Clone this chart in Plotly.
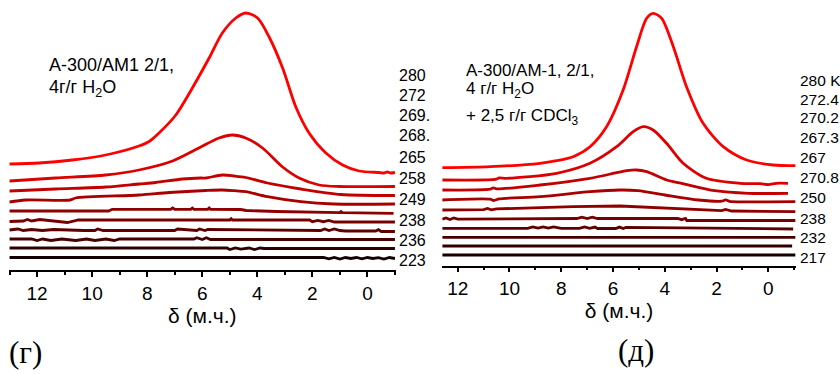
import plotly.graph_objects as go

# ---------------- data: panel (г) -----------------
g1_ppm = [13.0, 11.93, 10.72, 9.51, 8.30, 7.93, 7.57, 6.96, 6.36, 5.75, 5.27, 4.78, 4.42, 3.99, 3.57, 3.08, 2.60, 2.12, 1.51, 0.90, 0.30, -0.43, -0.6, -0.72, -0.85, -1.0]
g1_int = [106, 107, 110, 115, 124, 128.5, 137, 155, 182, 212, 237, 252, 257, 252, 233, 202, 163, 137, 117, 105, 99, 97.5, 97, 98, 97, 97.5]
g2_ppm = [13.0, 11.33, 9.51, 8.30, 7.08, 6.12, 5.39, 4.90, 4.42, 3.81, 3.08, 2.48, 1.75, 1.02, -1.0]
g2_int = [89, 92, 95, 100, 109, 122, 132, 135, 132, 122, 103, 92, 85, 83.5, 83.5]
g3_ppm = [13.0, 11.33, 9.51, 8.30, 7.69, 6.72, 6.05, 5.87, 5.27, 4.84, 4.42, 3.63, 2.42, 0.96, -1.0]
g3_int = [79, 81, 83, 86, 87.5, 91, 92, 92, 95, 94, 92.5, 87, 81, 75.5, 74.5]
g4_ppm = [13.0, 12.42, 10.8, 10.6, 8.30, 7.2, 5.87, 5.27, 4.84, 4.42, 3.63, 2.42, 1.21, -1.0]
g4_int = [68, 70, 70, 72, 75, 77.5, 79.5, 80, 79.3, 78.3, 73.3, 68.3, 66, 66]
g5_ppm = [13.0, 9.4, 9.27, 7.15, 7.08, 7.0, 6.42, 6.36, 6.3, 5.8, 5.75, 5.7, 4.6, 4.4, 3.3, 2.0, 1.0, 0.96, 0.9, -0.95]
g5_int = [59, 59, 60.7, 60.7, 62, 60.7, 60.7, 62, 60.7, 60.7, 62, 60.7, 60.5, 59.5, 58.5, 57.5, 57.3, 58.5, 57.3, 56.7]
g6_ppm = [13.0, 12.5, 12.35, 12.2, 11.9, 11.5, 11.2, 10.9, 10.5, 5.0, 4.95, 4.9, 2.1, 2.0, 1.8, 1.6, 1.4, 1.2, -1.0]
g6_int = [48.5, 49, 50.5, 49, 50.5, 49.5, 48, 47.5, 50, 50, 51.3, 50, 50, 48.3, 49.5, 48.3, 49.5, 48, 48]
g7_ppm = [13.0, 12.7, 12.5, 12.2, 11.8, 11.4, 10.3, 9.9, 9.8, 9.6, 7.0, 6.9, 6.2, 6.1, 5.9, 5.8, 1.7, 1.55, 1.4, 1.2, 1.0, 0.8, -0.3, -0.4, -0.5, -1.0]
g7_int = [40, 41, 39.5, 40.5, 39.5, 40.5, 39.5, 39.5, 41, 39.5, 39.5, 41, 39.5, 41, 39.5, 40.5, 39.5, 41, 39.5, 41, 39.5, 39, 39, 40.3, 38.5, 38.5]
g8_ppm = [13.0, 12.2, 12.0, 11.8, 11.5, 11.1, 10.6, 10.2, 9.9, 9.5, 9.2, 9.0, 6.3, 6.2, 6.0, 5.85, 5.7, -1.0]
g8_int = [31, 31, 29.5, 31, 29.5, 31, 29.5, 31, 29.5, 31, 29.5, 31, 31, 32.3, 30.5, 32.3, 30.5, 30.5]
g9_ppm = [13.0, 5.1, 5.0, 4.8, 4.6, 4.3, 4.1, 3.9, 3.75, -1.0]
g9_int = [22, 22, 20.5, 22, 20.8, 22, 20.5, 22, 21.5, 21.5]
g10_ppm = [13.0, 1.6, 1.4, 1.2, 1.0, 0.8, 0.6, 0.4, 0.2, 0.0, -0.2, -0.4, -0.6, -0.8, -1.0]
g10_int = [12.5, 12.5, 11.2, 12.5, 11, 12.5, 11.5, 12.5, 11.2, 12.5, 11.5, 12.3, 11, 12.5, 11.5]
g_labels = ["280", "272", "269.", "268.", "265", "258", "249", "238", "236", "223"]

# ---------------- data: panel (д) -----------------
d1_ppm = [12.6, 10.75, 8.82, 8.18, 7.54, 6.89, 6.25, 5.61, 5.09, 4.70, 4.45, 4.12, 3.67, 3.16, 2.52, 1.74, 0.84, -0.19, -1.05]
d1_int = [98, 99, 102.4, 105, 109, 119, 139, 175.7, 219, 247.4, 252.4, 247.4, 219, 179, 142.4, 119, 105.7, 100.7, 100]
d2_ppm = [12.6, 10.5, 10.4, 10.11, 8.18, 6.89, 5.86, 5.22, 4.83, 4.45, 3.93, 3.29, 2.39, 1.10, 0.3, 0.0, -0.3, -0.76]
d2_int = [85.7, 86.5, 87.8, 87.4, 92.4, 102.4, 119, 134, 139, 135.7, 122.4, 102.4, 87.4, 82.4, 82, 81, 82.4, 82.4]
d3_ppm = [12.6, 10.75, 10.63, 10.5, 8.82, 6.89, 5.86, 5.47, 5.09, 4.70, 3.93, 3.35, 2.07, 0.78, -0.76]
d3_int = [75.7, 76.5, 77.8, 76.8, 80.7, 87.4, 93, 95, 95.7, 94, 85.7, 82.4, 75, 72.4, 72.4]
d4_ppm = [12.6, 10.75, 10.6, 10.4, 8.82, 6.89, 5.73, 5.03, 4.0, 2.71, 1.8, 1.65, 1.5, 1.42, -1.05]
d4_int = [65.7, 66.5, 65.2, 66.8, 69, 74, 75.7, 75, 70.7, 65.7, 64.5, 65.8, 64.3, 64, 64]
d5_ppm = [12.6, 11.0, 10.85, 10.7, 10.5, 8.82, 7.54, 5.73, 3.35, 1.8, 1.65, 1.5, 1.42, -1.05]
d5_int = [55.7, 56, 57.3, 55.8, 56.8, 58.4, 59, 59.7, 56.4, 55, 56.3, 54.8, 54.7, 54]
d6_ppm = [12.6, 12.45, 12.3, 12.15, 12.0, 7.4, 7.2, 7.0, 6.8, 6.6, 3.5, 3.35, 3.2, 3.15, -1.05]
d6_int = [46.4, 47.8, 46.2, 47.8, 46.6, 47.2, 48.6, 47.2, 48.6, 47.2, 47.2, 46, 47.2, 45.2, 45.2]
d7_ppm = [12.6, 9.3, 9.1, 8.9, 8.7, 8.5, 8.3, 8.0, 7.3, 7.1, 6.9, 6.7, 6.6, 5.9, 5.75, 5.6, 5.5, -0.96]
d7_int = [37.4, 37.4, 38.8, 37.6, 38.8, 37.6, 38.8, 37.4, 37.4, 38.8, 37.4, 38.6, 37.2, 37.2, 38.6, 37.2, 38.4, 36.7]
d8_ppm = [12.6, -1.05]
d8_int = [28.4, 28.4]
d9_ppm = [12.6, -0.92]
d9_int = [19.7, 19.7]
d10_ppm = [12.6, -1.05]
d10_int = [10.7, 10.7]
d_labels = ["280 K", "272.4", "270.2", "267.3", "267", "270.8", "250", "238", "232", "217"]

g_x_ticks = [12, 10, 8, 6, 4, 2, 0]

trace_colors = ["#ff0000", "#dc0000", "#c20000", "#a80000", "#8e0000", "#760000",
                "#5e0000", "#460000", "#2e0000", "#140000"]

g_series = [(g1_ppm, g1_int), (g2_ppm, g2_int), (g3_ppm, g3_int), (g4_ppm, g4_int),
            (g5_ppm, g5_int), (g6_ppm, g6_int), (g7_ppm, g7_int), (g8_ppm, g8_int),
            (g9_ppm, g9_int), (g10_ppm, g10_int)]
d_series = [(d1_ppm, d1_int), (d2_ppm, d2_int), (d3_ppm, d3_int), (d4_ppm, d4_int),
            (d5_ppm, d5_int), (d6_ppm, d6_int), (d7_ppm, d7_int), (d8_ppm, d8_int),
            (d9_ppm, d9_int), (d10_ppm, d10_int)]

W, H = 840, 374
FONT = "Arial, Liberation Sans, sans-serif"
SERIF = "Times New Roman, Liberation Serif, serif"

fig = go.Figure()
for i, (xs, ys) in enumerate(g_series):
    fig.add_trace(go.Scatter(x=xs, y=ys, mode="lines", xaxis="x", yaxis="y",
                             line=dict(color=trace_colors[i], width=2.8,
                                       shape="spline" if i < 4 else "linear", smoothing=0.8),
                             showlegend=False, hoverinfo="skip"))
for i, (xs, ys) in enumerate(d_series):
    fig.add_trace(go.Scatter(x=xs, y=ys, mode="lines", xaxis="x2", yaxis="y2",
                             line=dict(color=trace_colors[i], width=2.8,
                                       shape="spline" if i < 4 else "linear", smoothing=0.8),
                             showlegend=False, hoverinfo="skip"))


def px(x):
    return x / W


def py(y):
    return 1 - y / H


xaxis_common = dict(
    showgrid=False, zeroline=False, showline=True, linecolor="black", linewidth=1.5,
    ticks="outside", ticklen=5, tickwidth=1.5, tickcolor="black",
    tickmode="array", tickvals=g_x_ticks,
    tickfont=dict(family=FONT, size=19, color="black"),
    minor=dict(ticks="outside", ticklen=3, tickwidth=1.5, tickcolor="black", dtick=1, tick0=0,
               showgrid=False),
    title=dict(text="δ (м.ч.)", font=dict(family=FONT, size=21, color="black"), standoff=2),
)
yaxis_common = dict(visible=False, showgrid=False, zeroline=False, fixedrange=True)

fig.update_layout(
    width=W, height=H,
    margin=dict(l=0, r=0, t=0, b=0),
    paper_bgcolor="white", plot_bgcolor="white",
    xaxis=dict(domain=[px(9), px(395.5)], range=[13.02, -1.02], anchor="y", **xaxis_common),
    yaxis=dict(domain=[py(270), py(5)], range=[0, 265], anchor="x", **yaxis_common),
    xaxis2=dict(domain=[px(442.3), px(795.7)], range=[12.595, -1.058], anchor="y2", **xaxis_common),
    yaxis2=dict(domain=[py(265.7), py(5)], range=[0, 260.7], anchor="x2", **yaxis_common),
)

ann = []
g_label_y = [75, 95.3, 115.8, 135.8, 157.5, 178.3, 199, 220, 240.8, 260.8]
d_label_y = [80.3, 99.7, 118, 137.8, 157.8, 177.8, 197.8, 218, 237.8, 257.8]
for t, yy in zip(g_labels, g_label_y):
    ann.append(dict(text=t, x=px(397), y=py(yy), xref="paper", yref="paper",
                    xanchor="left", yanchor="middle", showarrow=False,
                    font=dict(family=FONT, size=16, color="black")))
for t, yy in zip(d_labels, d_label_y):
    ann.append(dict(text=t, x=px(797.5), y=py(yy), xref="paper", yref="paper",
                    xanchor="left", yanchor="middle", showarrow=False,
                    font=dict(family=FONT, size=15.5, color="black")))

notes = [
    ("A-300/AM1 2/1,", 47, 64.7, 18),
    ("4г/г H<sub>2</sub>O", 47, 88, 18),
    ("A-300/AM-1, 2/1,", 464, 70.5, 17),
    ("4 г/г H<sub>2</sub>O", 464, 90.5, 17),
    ("+ 2,5 г/г CDCl<sub>3</sub>", 464, 116.5, 17),
]
for t, xx, yy, fs in notes:
    ann.append(dict(text=t, x=px(xx), y=py(yy), xref="paper", yref="paper",
                    xanchor="left", yanchor="middle", showarrow=False,
                    font=dict(family=FONT, size=fs, color="black")))

ann.append(dict(text="(г)", x=px(25), y=py(352), xref="paper", yref="paper",
                xanchor="center", yanchor="middle", showarrow=False,
                font=dict(family=SERIF, size=31, color="black")))
ann.append(dict(text="(д)", x=px(636), y=py(350), xref="paper", yref="paper",
                xanchor="center", yanchor="middle", showarrow=False,
                font=dict(family=SERIF, size=31, color="black")))
fig.update_layout(annotations=ann)

fig.write_html("out.html")
